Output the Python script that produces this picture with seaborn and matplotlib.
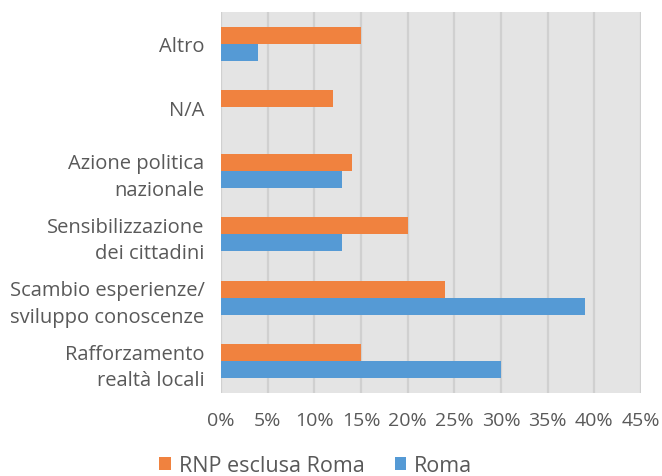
import matplotlib.pyplot as plt
import matplotlib.ticker as mticker
import pandas as pd
import seaborn as sns

CATEGORIES = [
    "Altro",
    "N/A",
    "Azione politica\nnazionale",
    "Sensibilizzazione\ndei cittadini",
    "Scambio esperienze/\nsviluppo conoscenze",
    "Rafforzamento\nrealtà locali",
]
RNP_ESCLUSA_ROMA = [15, 12, 14, 20, 24, 15]
ROMA = [4, 0, 13, 13, 39, 30]
SERIES = ["RNP esclusa Roma", "Roma"]
COLORS = ["#F0823F", "#559AD5"]
X_TICKS = list(range(0, 50, 5))

TEXT_COLOR = "#595959"


def configure_style() -> None:
    sns.set_theme(style="white")
    plt.rcParams["font.family"] = ["Open Sans", "DejaVu Sans"]
    plt.rcParams["text.color"] = TEXT_COLOR


def build_frame() -> pd.DataFrame:
    rows = []
    for cat, a, b in zip(CATEGORIES, RNP_ESCLUSA_ROMA, ROMA):
        rows.append({"categoria": cat, "serie": SERIES[0], "valore": a})
        rows.append({"categoria": cat, "serie": SERIES[1], "valore": b})
    return pd.DataFrame(rows)


def main() -> None:
    configure_style()
    df = build_frame()

    fig = plt.figure(figsize=(6.62, 4.77), dpi=100)
    ax = fig.add_axes([0.334, 0.174, 0.634, 0.799])

    sns.barplot(
        data=df,
        x="valore",
        y="categoria",
        hue="serie",
        hue_order=SERIES,
        order=CATEGORIES,
        palette=COLORS,
        orient="h",
        width=0.535,
        saturation=1,
        errorbar=None,
        linewidth=0,
        ax=ax,
    )

    ax.set_facecolor("#E4E4E4")
    ax.set_xlim(0, 45)
    ax.set_ylim(len(CATEGORIES) - 0.5, -0.5)
    ax.set_xticks(X_TICKS)
    ax.xaxis.set_major_formatter(mticker.FuncFormatter(lambda v, _: f"{v:.0f}%"))
    ax.grid(axis="x", color="#D0D0D0", linewidth=1.6)
    ax.grid(axis="y", visible=False)
    ax.set_axisbelow(True)
    for spine in ax.spines.values():
        spine.set_visible(False)

    ax.tick_params(axis="both", length=0, labelcolor=TEXT_COLOR)
    ax.tick_params(axis="x", pad=13, labelsize=14)
    ax.tick_params(axis="y", pad=12, labelsize=14.5)
    for lbl in ax.get_yticklabels():
        lbl.set_linespacing(1.45)
    ax.set_xlabel("")
    ax.set_ylabel("")

    handles, labels = ax.get_legend_handles_labels()
    ax.get_legend().remove()
    leg = fig.legend(
        handles,
        labels,
        loc="center",
        bbox_to_anchor=(0.477, 0.022),
        ncol=2,
        frameon=False,
        fontsize=15.5,
        handlelength=0.55,
        handleheight=0.55,
        handletextpad=0.35,
        columnspacing=1.4,
    )
    for txt in leg.get_texts():
        txt.set_color(TEXT_COLOR)

    fig.savefig("out.png", dpi=100)
    plt.close(fig)


if __name__ == "__main__":
    main()
